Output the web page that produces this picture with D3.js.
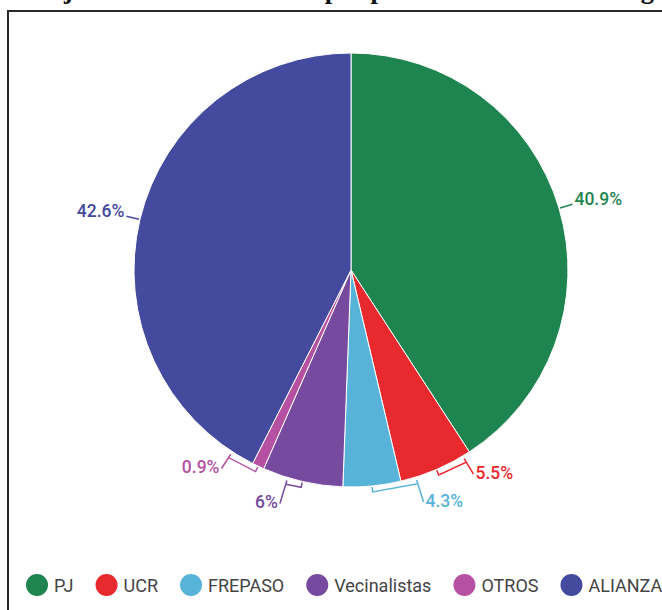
<!DOCTYPE html>
<html>
<head>
<meta charset="utf-8">
<script src="https://cdnjs.cloudflare.com/ajax/libs/d3/7.8.5/d3.min.js"></script>
<style>
  body { margin: 0; background: #fff; }
  svg { display: block; }
</style>
</head>
<body>
<svg width="662" height="610"></svg>
<script>
// **** Data ****
var partidos = ['PJ', 'UCR', 'FREPASO', 'Vecinalistas', 'OTROS', 'ALIANZA'];
var porcentajes = [40.9, 5.5, 4.3, 6, 0.9, 42.6];
var colores = ['#1f8550', '#e8292d', '#58b3d9', '#764a9e', '#b650a2', '#444a9d'];
var titulo = 'Porcentaje de bancas obtenidas por partido del 1999 en la legislatura';

// **** Layout ****
var svg = d3.select('svg');
var cx = 351, cy = 270, radius = 217;

// label nudges for the small slices at the bottom (degrees, extra radius)
var labelShift = {
    UCR: [-7.8, 21],
    FREPASO: [-11.8, 26],
    Vecinalistas: [4, 27],
    OTROS: [7.8, 20]
};

var dataset = partidos.map(function (p, i) {
    return { name: p, value: porcentajes[i], color: colores[i] };
});

function polar(angle, r) {
    return [cx + r * Math.sin(angle), cy - r * Math.cos(angle)];
}

// frame
svg.append('rect')
    .attr('x', 8)
    .attr('y', 11)
    .attr('width', 800)
    .attr('height', 800)
    .style('fill', 'none')
    .style('stroke', '#2a2a2a')
    .style('stroke-width', 2);

// title (cut by the top edge)
svg.append('text')
    .attr('x', -37)
    .attr('y', -2)
    .text(titulo)
    .style('font-family', '"Liberation Serif", serif')
    .style('font-weight', 'bold')
    .style('font-size', '26.5px')
    .style('fill', '#111');

var pie = d3.pie().sort(null).value(function (d) { return d.value; });
var arc = d3.arc().innerRadius(0).outerRadius(radius);
var arcs = pie(dataset);

var g = svg.append('g').attr('transform', 'translate(' + cx + ',' + cy + ')');

g.selectAll('path.slice')
    .data(arcs)
    .enter()
    .append('path')
    .attr('class', 'slice')
    .attr('d', arc)
    .style('fill', function (d) { return d.data.color; })
    .style('stroke', '#fff')
    .style('stroke-width', 1);

// labels
var fmt = function (v) { return v + '%'; };

arcs.forEach(function (d) {
    var mid = (d.startAngle + d.endAngle) / 2;
    var shift = labelShift[d.data.name];
    var color = d.data.color;
    var end, path, dy;
    if (shift) {
        var la = mid + shift[0] * Math.PI / 180;
        var p1 = polar(mid, radius + 1);
        var p2 = polar(mid, radius + 6);
        var p3 = polar(la, radius + 7);
        var p4 = polar(la, radius + 3);
        end = polar(la, radius + shift[1]);
        path = 'M' + p1 + 'L' + p2 + 'L' + p3 + 'L' + p4 + 'L' + end;
        dy = 5;
    } else {
        var q1 = polar(mid, radius + 1);
        end = polar(mid, radius + 14);
        path = 'M' + q1 + 'L' + end;
        dy = 1;
    }
    svg.append('path')
        .attr('d', path)
        .style('fill', 'none')
        .style('stroke', color)
        .style('stroke-width', 1.5);

    var right = Math.sin(mid + (shift ? shift[0] * Math.PI / 180 : 0)) > 0;
    svg.append('text')
        .attr('x', end[0] + (right ? 2 : -2))
        .attr('y', end[1] + dy)
        .attr('text-anchor', right ? 'start' : 'end')
        .text(fmt(d.data.value))
        .style('font-family', 'Roboto, sans-serif')
        .style('font-size', '17.5px')
        .style('font-weight', 500)
        .style('fill', color);
});

// legend
var lx = 26, ly = 585;
dataset.forEach(function (d) {
    svg.append('circle')
        .attr('cx', lx + 11)
        .attr('cy', ly)
        .attr('r', 11)
        .style('fill', d.color);
    var t = svg.append('text')
        .attr('x', lx + 28)
        .attr('y', ly + 6.5)
        .text(d.name)
        .style('font-family', 'Roboto, sans-serif')
        .style('font-size', '18px')
        .style('fill', '#444');
    var w = t.node().getComputedTextLength();
    lx = lx + 28 + w + 22;
});
</script>
</body>
</html>
